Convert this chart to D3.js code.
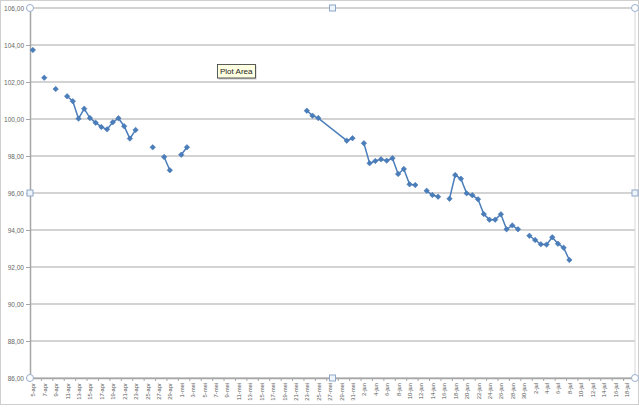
<!DOCTYPE html>
<html><head><meta charset="utf-8">
<script src="https://cdn.jsdelivr.net/npm/d3@7"></script>
<style>body{margin:0;background:#fff}svg{display:block}</style>
</head><body>
<script>
// ---- data ----
const dates = ["2011-04-05","2011-04-06","2011-04-07","2011-04-08","2011-04-09","2011-04-10",
 "2011-04-11","2011-04-12","2011-04-13","2011-04-14","2011-04-15","2011-04-16","2011-04-17","2011-04-18",
 "2011-04-19","2011-04-20","2011-04-21","2011-04-22","2011-04-23","2011-04-24","2011-04-26","2011-04-27",
 "2011-04-28","2011-04-29","2011-04-30","2011-05-01","2011-05-02","2011-05-10",
 "2011-05-23","2011-05-24","2011-05-25","2011-05-30","2011-05-31","2011-06-01",
 "2011-06-02","2011-06-03","2011-06-04","2011-06-05","2011-06-06","2011-06-07","2011-06-08","2011-06-09",
 "2011-06-10","2011-06-11","2011-06-12","2011-06-13","2011-06-14","2011-06-15","2011-06-16",
 "2011-06-17","2011-06-18","2011-06-19","2011-06-20","2011-06-21","2011-06-22","2011-06-23","2011-06-24",
 "2011-06-25","2011-06-26","2011-06-27","2011-06-28","2011-06-29","2011-06-30",
 "2011-07-01","2011-07-02","2011-07-03","2011-07-04","2011-07-05","2011-07-06","2011-07-07","2011-07-08"];
const values = [103.73,null,102.23,null,101.62,null,
 101.23,100.96,100.02,100.56,100.05,99.80,99.57,99.44,
 99.82,100.04,99.61,98.94,99.41,null,98.47,null,
 97.95,97.23,null,98.07,98.47,null,
 100.45,100.18,100.05,98.83,98.96,null,
 98.69,97.61,97.73,97.82,97.75,97.88,97.03,97.30,
 96.47,96.43,null,96.12,95.89,95.80,null,
 95.69,96.97,96.77,95.98,95.88,95.66,94.86,94.56,
 94.56,94.85,94.04,94.25,94.04,null,
 93.69,93.46,93.23,93.21,93.61,93.26,93.04,92.38];
const yTicks = [86,88,90,92,94,96,98,100,102,104,106];
const axisStart = "2011-04-05", axisEnd = "2011-07-20"; // categories: one per day
const monthNames = ["jan","feb","mrt","apr","mei","jun","jul","aug","sep","okt","nov","dec"];

// ---- layout ----
const W = 639, H = 408;
const L = 30, R = 635, T = 8, B = 378;
const parse = d3.timeParse("%Y-%m-%d");
const day = 864e5;
const s0 = parse(axisStart), s1 = parse(axisEnd);
const x = d3.scaleTime().domain([new Date(+s0 - day/2), new Date(+s1 - day/2)]).range([L, R]);
const y = d3.scaleLinear().domain([86,106]).range([B, T]);

const svg = d3.select("body").append("svg").attr("width", W).attr("height", H);
svg.append("rect").attr("x",0.5).attr("y",0.5).attr("width",W-1).attr("height",404)
  .attr("fill","#fff").attr("stroke","#cfcfcf");

// gridlines
svg.append("g").selectAll("line").data(yTicks).join("line")
  .attr("x1", L).attr("x2", R).attr("y1", d=>y(d)).attr("y2", d=>y(d))
  .attr("stroke","#c4c4c4").attr("stroke-width",1.3);

// right plot edge
svg.append("line").attr("x1",R).attr("x2",R).attr("y1",T).attr("y2",B)
  .attr("stroke","#d8d8d8").attr("stroke-width",1);

// y axis
const fmt = d => d3.format(".2f")(d).replace(".", ",");
const yAxis = d3.axisLeft(y).tickValues(yTicks).tickFormat(fmt).tickSize(4).tickPadding(2);
const gy = svg.append("g").attr("transform",`translate(${L},0)`).call(yAxis);
gy.select(".domain").attr("stroke","#a6a6a6").attr("stroke-width",1.5);
gy.selectAll(".tick line").attr("stroke","#a6a6a6");
gy.selectAll("text").attr("font-family","Liberation Sans, Arial, sans-serif").attr("font-size",6.5).attr("fill","#666");

// x axis
const labelDates = d3.timeDay.every(1).range(s0, s1).filter((d,i)=> i%2===0);
const tickDates = labelDates.map(d => new Date(+d - day/2));
const xAxis = d3.axisBottom(x).tickValues(labelDates)
  .tickFormat(d => d.getDate() + "-" + monthNames[d.getMonth()]).tickSize(0).tickPadding(4);
const gx = svg.append("g").attr("transform",`translate(0,${B})`).call(xAxis);
gx.select(".domain").attr("stroke","#a6a6a6").attr("stroke-width",1.3);
gx.selectAll("text").attr("font-family","Liberation Sans, Arial, sans-serif").attr("font-size",5.8)
  .attr("fill","#555").attr("text-anchor","end").attr("dy","0.35em")
  .attr("transform","rotate(-90)").attr("x",-5).attr("y",0);
gx.append("g").selectAll("line").data(tickDates).join("line")
  .attr("x1",d=>x(d)).attr("x2",d=>x(d)).attr("y1",0).attr("y2",3)
  .attr("stroke","#a6a6a6");

// series
const data = dates.map((d,i)=>({date: parse(d), value: values[i]}));
const line = d3.line().defined(d => d.value !== null).x(d=>x(d.date)).y(d=>y(d.value));
svg.append("path").datum(data).attr("d", line).attr("fill","none")
  .attr("stroke","#4a7ebb").attr("stroke-width",1.5);
const marker = d3.symbol().type(d3.symbolSquare).size(15);
svg.append("g").selectAll("path").data(data.filter(d=>d.value!==null)).join("path")
  .attr("d", marker).attr("transform", d=>`translate(${x(d.date)},${y(d.value)}) rotate(45)`)
  .attr("fill","#4a7ebb").attr("stroke","#4071ad").attr("stroke-width",0.5);

// selection handles
const corners = [[L,T],[R,T],[L,B],[R,B]];
svg.append("g").selectAll("circle").data(corners).join("circle")
  .attr("cx",d=>d[0]).attr("cy",d=>d[1]).attr("r",3.5)
  .attr("fill","#fff").attr("stroke","#9ab0cc").attr("stroke-width",1);
const mids = [[(L+R)/2,T],[L,(T+B)/2],[R,(T+B)/2],[(L+R)/2,B]];
svg.append("g").selectAll("rect").data(mids).join("rect")
  .attr("x",d=>d[0]-3).attr("y",d=>d[1]-3).attr("width",6).attr("height",6)
  .attr("fill","#eef4fb").attr("stroke","#8fa8c8").attr("stroke-width",1);

// tooltip
const tt = svg.append("g").attr("transform","translate(217,64)");
tt.append("rect").attr("x",1.5).attr("y",1.5).attr("width",38).attr("height",14).attr("fill","#c8c8c8");
tt.append("rect").attr("x",0.5).attr("y",0.5).attr("width",38).attr("height",13.5)
  .attr("fill","#ffffe1").attr("stroke","#333").attr("stroke-width",0.8);
tt.append("text").attr("x",3).attr("y",10).text("Plot Area")
  .attr("font-family","Liberation Sans, Arial, sans-serif").attr("font-size",8).attr("fill","#222");
</script>
</body></html>
